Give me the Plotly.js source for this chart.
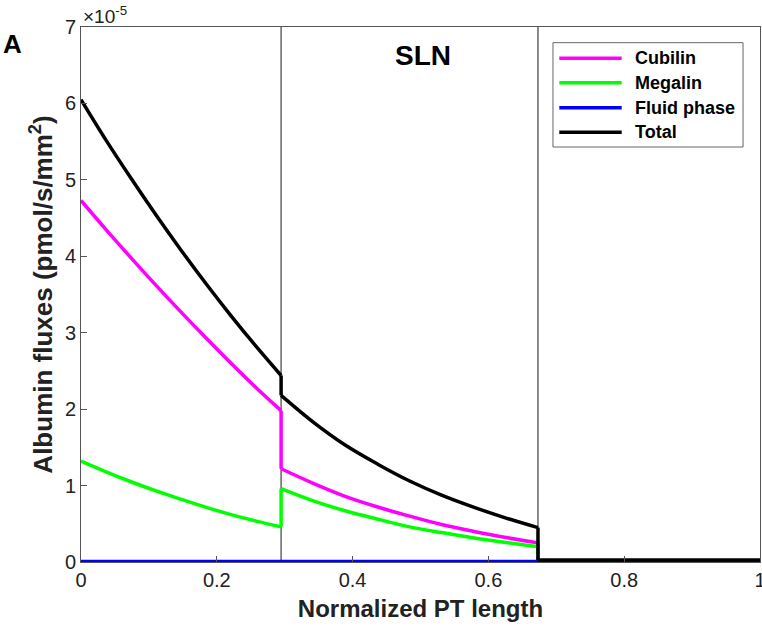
<!DOCTYPE html>
<html>
<head>
<meta charset="utf-8">
<script src="https://cdn.plot.ly/plotly-3.0.1.min.js"></script>
<style>
  html, body { margin: 0; padding: 0; background: #fff; }
  #plot { width: 762px; height: 629px; }
</style>
</head>
<body>
<div id="plot"></div>
<script>
// boundaries of the SLN segment (normalized PT length)
var segStart = 0.2947;
var segEnd = 0.673;

// positions along the tubule, values in units of 1e-5 pmol/s/mm^2
// a repeated x marks a jump at a segment boundary
var xPos = [0, 0.0368, 0.0737, 0.1105, 0.1474, 0.1842, 0.221, 0.2579, 0.2947,
            0.2947, 0.342, 0.389, 0.437, 0.484, 0.531, 0.579, 0.626, 0.673,
            0.673, 1];
var cubilin = [4.73, 4.35, 3.98, 3.62, 3.27, 2.93, 2.60, 2.28, 1.98,
               1.22, 1.03, 0.86, 0.72, 0.60, 0.49, 0.40, 0.32, 0.25,
               0, 0];
var megalin = [1.32, 1.18, 1.05, 0.93, 0.82, 0.715, 0.62, 0.535, 0.46,
               0.96, 0.80, 0.67, 0.56, 0.46, 0.385, 0.315, 0.255, 0.20,
               0, 0];
var fluidX = [0, 1];
var fluidPhase = [0.005, 0.005];
var total = [6.05, 5.52, 5.02, 4.54, 4.08, 3.64, 3.22, 2.82, 2.44,
             2.18, 1.83, 1.53, 1.28, 1.06, 0.875, 0.715, 0.575, 0.45,
             0.025, 0.025];

var seriesNames = ["Cubilin", "Megalin", "Fluid phase", "Total"];
var seriesColors = ["#ff00ff", "#00ff00", "#0000ff", "#000000"];

var fontFam = "Liberation Sans, Arial, sans-serif";
var lw = 3.5;

// smooth pieces between jumps, straight vertical jumps
function seriesTraces(xs, ys, color) {
  var out = [];
  var start = 0;
  for (var i = 1; i <= xs.length; i++) {
    if (i == xs.length || xs[i] == xs[i - 1]) {
      out.push({x: xs.slice(start, i), y: ys.slice(start, i), mode: "lines",
                line: {color: color, width: lw, shape: "spline", smoothing: 1},
                showlegend: false, hoverinfo: "skip"});
      if (i < xs.length) {
        out.push({x: [xs[i - 1], xs[i]], y: [ys[i - 1], ys[i]], mode: "lines",
                  line: {color: color, width: lw}, showlegend: false, hoverinfo: "skip"});
      }
      start = i;
    }
  }
  return out;
}

var traces = []
  .concat(seriesTraces(xPos, cubilin, seriesColors[0]))
  .concat(seriesTraces(xPos, megalin, seriesColors[1]))
  .concat(seriesTraces(fluidX, fluidPhase, seriesColors[2]))
  .concat(seriesTraces(xPos, total, seriesColors[3]));

var axisStyle = {
  showgrid: false,
  zeroline: false,
  showline: true,
  mirror: true,
  linecolor: "#555",
  linewidth: 1,
  ticks: "inside",
  ticklen: 6,
  tickcolor: "#555",
  ticklabeloverflow: "allow",
  tickfont: {family: fontFam, size: 20, color: "#222"}
};

// legend drawn by hand so the sample lines match the original length
var legX0 = 0.6951, legX1 = 0.975, legY0 = 0.7757, legY1 = 0.9707;
var legLineX0 = 0.7044, legLineX1 = 0.7963, legTextX = 0.8125;
var legRowY = [0.9415, 0.8959, 0.8492, 0.8032];

var shapes = [
  {type: "line", xref: "x", yref: "paper", x0: segStart, x1: segStart, y0: 0, y1: 1,
   line: {color: "#666", width: 1.5}, layer: "below"},
  {type: "line", xref: "x", yref: "paper", x0: segEnd, x1: segEnd, y0: 0, y1: 1,
   line: {color: "#666", width: 1.5}, layer: "below"},
  {type: "rect", xref: "paper", yref: "paper", x0: legX0, x1: legX1, y0: legY0, y1: legY1,
   fillcolor: "#fff", line: {color: "#666", width: 1}, layer: "above"}
];

var annotations = [
  {text: "×10<sup>-5</sup>", xref: "paper", yref: "paper", x: 0, y: 1, xanchor: "left", yanchor: "bottom",
   showarrow: false, font: {family: fontFam, size: 19, color: "#222"}, yshift: -2},
  {text: "<b>A</b>", xref: "paper", yref: "paper", x: -0.118, y: 0.968, xanchor: "left", yanchor: "middle",
   showarrow: false, font: {family: fontFam, size: 26, color: "#000"}},
  {text: "<b>SLN</b>", xref: "paper", yref: "paper", x: 0.503, y: 0.946, xanchor: "center", yanchor: "middle",
   showarrow: false, font: {family: fontFam, size: 28, color: "#000"}}
];

for (var k = 0; k < seriesNames.length; k++) {
  shapes.push({type: "line", xref: "paper", yref: "paper", x0: legLineX0, x1: legLineX1,
               y0: legRowY[k], y1: legRowY[k], line: {color: seriesColors[k], width: lw}, layer: "above"});
  annotations.push({text: "<b>" + seriesNames[k] + "</b>", xref: "paper", yref: "paper",
                    x: legTextX, y: legRowY[k], xanchor: "left", yanchor: "middle", showarrow: false,
                    font: {family: fontFam, size: 18, color: "#000"}});
}

var layout = {
  width: 762,
  height: 629,
  margin: {l: 81, r: 2, t: 27, b: 67},
  paper_bgcolor: "#fff",
  plot_bgcolor: "#fff",
  font: {family: fontFam},
  showlegend: false,
  xaxis: Object.assign({}, axisStyle, {
    range: [0, 1],
    tickvals: [0, 0.2, 0.4, 0.6, 0.8, 1],
    ticktext: ["0", "0.2", "0.4", "0.6", "0.8", "1"],
    title: {text: "<b>Normalized PT length</b>", font: {family: fontFam, size: 24, color: "#222"}, standoff: 10}
  }),
  yaxis: Object.assign({}, axisStyle, {
    range: [0, 7],
    tickvals: [0, 1, 2, 3, 4, 5, 6, 7],
    title: {text: "<b>Albumin fluxes (pmol/s/mm<sup>2</sup>)</b>", font: {family: fontFam, size: 26, color: "#222"}, standoff: 4}
  }),
  shapes: shapes,
  annotations: annotations
};

Plotly.newPlot("plot", traces, layout, {displayModeBar: false});
</script>
</body>
</html>
